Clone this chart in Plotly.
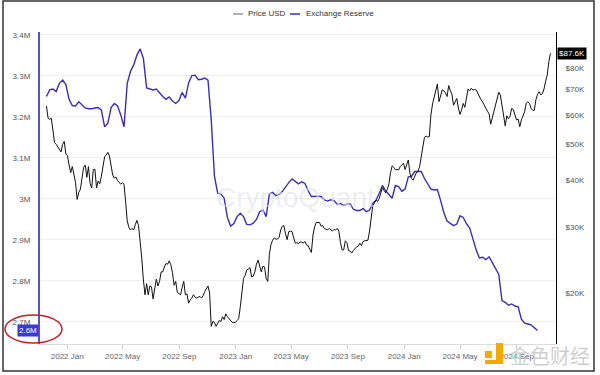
import pandas as pd
import numpy as np
import plotly.graph_objects as go

# Samples, starting 2021-11-17
start_date = "2021-11-17"

# Exchange Reserve (millions of BTC), weekly
reserve_m = [
    3.250, 3.266, 3.268, 3.262, 3.282, 3.290, 3.279, 3.243, 3.228, 3.227,
    3.237, 3.229, 3.222, 3.220, 3.220, 3.222, 3.223, 3.217, 3.176, 3.185,
    3.223, 3.233, 3.227, 3.205, 3.176, 3.282, 3.311, 3.327, 3.351, 3.366,
    3.343, 3.271, 3.268, 3.266, 3.268, 3.258, 3.250, 3.243, 3.249,
    3.239, 3.233, 3.240, 3.260, 3.246, 3.283, 3.301, 3.302, 3.291, 3.292,
    3.295, 3.290, 3.193, 3.055, 3.014, 3.012, 3.002, 2.955, 2.934, 2.940,
    2.957, 2.965, 2.957, 2.938, 2.937, 2.941, 2.950, 2.969, 2.973, 2.957,
    3.012, 3.016, 3.008, 3.011, 3.018, 3.030, 3.040, 3.049, 3.042, 3.037,
    3.042, 3.038, 3.020, 3.006, 3.006, 3.007, 3.006, 2.998, 2.995, 2.998,
    2.996, 2.987, 2.989, 2.984, 2.988, 2.988, 2.975, 2.972, 2.972, 2.977,
    2.969, 2.973, 2.989, 2.997, 3.014, 3.033, 3.020, 3.011, 3.002, 3.033,
    3.030, 3.019, 3.024, 3.054, 3.055, 3.067, 3.067, 3.067, 3.050, 3.038,
    3.024, 3.022, 3.023, 2.996, 2.967, 2.946, 2.941, 2.935, 2.939, 2.959,
    2.955, 2.940, 2.929, 2.900, 2.876, 2.856, 2.858, 2.852, 2.859, 2.845,
    2.830, 2.816, 2.752, 2.748, 2.741, 2.744, 2.739, 2.737, 2.707, 2.697,
    2.695, 2.693, 2.686, 2.679,
]

# Price USD (thousands), every 3.5 days
price_k = [
    63.3, 58.7, 58.3, 58.7, 54.6, 50.5, 50.0, 49.1, 48.5, 47.7,
    50.0, 50.9, 47.1, 46.6, 44.0, 42.0, 43.6, 41.8, 39.5, 35.6,
    37.2, 37.9, 40.3, 43.4, 44.0, 40.8, 43.6, 39.3, 38.2, 42.8,
    42.9, 38.2, 39.9, 39.2, 41.1, 44.0, 46.3, 46.8, 47.6, 46.5,
    44.0, 41.4, 40.6, 40.9, 40.0, 39.5, 39.1, 39.5, 39.1, 35.1,
    31.2, 30.0, 29.5, 29.8, 29.5, 30.5, 31.3, 30.3, 27.7, 24.8,
    21.7, 19.8, 21.2, 19.8, 20.9, 20.8, 19.3, 20.7, 21.8, 20.9,
    21.5, 22.8, 22.8, 23.5, 24.0, 23.9, 24.4, 23.8,
    22.7, 21.0, 21.5, 20.1, 20.0, 19.8, 20.7, 21.5, 19.8, 19.9,
    18.8, 19.2, 19.4, 19.8, 19.5, 19.4, 19.5, 19.6, 19.4, 19.7,
    20.2, 20.6, 20.9, 20.0, 16.3, 16.8, 16.7, 16.3, 16.6, 16.9,
    16.8, 17.3, 17.0, 17.6, 17.3, 17.1, 16.8, 16.7, 16.7, 16.7,
    16.9, 17.1, 18.4, 20.6, 21.9, 22.3, 23.1, 23.2, 23.4, 22.1,
    22.2, 22.8, 23.9, 24.5, 23.5, 22.8, 23.6, 23.5, 21.9, 21.5,
    25.4, 27.0, 27.7, 28.1, 27.9, 27.9, 28.2, 29.5, 30.2, 30.3,
    28.8, 27.8, 29.2, 29.3, 29.2, 28.2, 27.2, 27.3, 27.1, 27.4,
    27.4, 27.2, 27.5, 26.9, 26.8, 26.2, 25.7, 28.6, 30.1, 30.9,
    30.9, 30.9, 30.2, 30.3, 29.8, 29.7, 29.5, 29.8, 29.5, 29.3,
    29.6, 29.5, 29.8, 29.3, 27.3, 26.1, 26.1, 27.6, 27.3, 26.0,
    25.9, 25.6, 26.0, 26.4, 26.6, 26.7, 27.2, 26.8, 27.5, 27.6,
    27.7, 27.7, 29.3, 32.3, 34.3, 34.8, 35.5, 35.2, 35.8, 37.1,
    38.3, 37.6, 37.1, 37.9, 39.2, 42.0, 43.8, 43.4, 42.8, 42.8,
    42.7, 43.6, 44.0, 44.5, 42.8, 43.9, 45.4, 41.8, 40.5, 40.1,
    41.1, 42.0, 42.3, 43.6, 46.3, 48.8, 52.2, 52.6, 52.3, 52.4,
    59.9, 64.1, 67.0, 70.3, 72.5, 65.0, 67.0, 69.9, 69.5, 68.6,
    67.1, 71.8, 69.6, 68.1, 63.6, 64.9, 66.3, 62.5, 60.1, 61.8,
    64.3, 62.8, 65.9, 70.3, 69.5, 70.6, 69.8, 70.1, 69.9, 68.3,
    66.9, 65.8, 64.9, 63.3, 62.4, 61.3, 60.3, 56.6, 58.9, 60.6,
    63.4, 65.8, 68.9, 67.7, 64.0, 59.3, 56.0, 59.6, 58.5, 59.5,
    62.4, 61.9, 60.0, 58.1, 58.4, 55.7, 58.1, 59.6, 61.1, 64.4,
    65.0, 64.3, 62.4, 61.7, 61.6, 65.8, 68.0, 69.1, 67.8, 68.3,
    70.3, 73.7, 76.6, 83.2, 87.6,
]

left_ticks = [2.7, 2.8, 2.9, 3.0, 3.1, 3.2, 3.3, 3.4]
left_labels = ["2.7M", "2.8M", "2.9M", "3M", "3.1M", "3.2M", "3.3M", "3.4M"]
right_ticks = [20, 30, 40, 50, 60, 70, 80]
right_labels = ["$20K", "$30K", "$40K", "$50K", "$60K", "$70K", "$80K"]

reserve_dates = pd.date_range(start_date, periods=len(reserve_m), freq="7D")
price_dates = pd.date_range(start_date, periods=len(price_k), freq="84h")

FONT = "Liberation Sans, Arial, sans-serif"
PURPLE = "#3a2fb3"

fig = go.Figure()
fig.add_trace(go.Scatter(x=reserve_dates, y=reserve_m, mode="lines",
                         line=dict(color=PURPLE, width=1.4), name="Exchange Reserve",
                         yaxis="y", hoverinfo="skip"))
fig.add_trace(go.Scatter(x=price_dates, y=price_k, mode="lines",
                         line=dict(color="#111111", width=1), name="Price USD",
                         yaxis="y2", hoverinfo="skip"))

fig.update_layout(
    width=600, height=375,
    margin=dict(l=40, r=44, t=32, b=31),
    paper_bgcolor="white", plot_bgcolor="white",
    showlegend=False,
    font=dict(family=FONT, size=8, color="#555"),
    xaxis=dict(range=["2021-11-03", "2024-11-25"], tick0="2022-01-01", dtick="M4",
               tickformat="%Y %b", showline=True, linecolor="#dcdcdc", ticks="outside",
               ticklen=4, tickcolor="#cccccc", tickfont=dict(size=8, color="#666"),
               showgrid=False, zeroline=False),
    yaxis=dict(range=[2.6463, 3.4073], tickvals=left_ticks, ticktext=left_labels,
               showgrid=True, gridcolor="#eeeeee", showline=True, linecolor="#5a4fd0",
               linewidth=2, ticks="outside", ticklen=6, tickcolor="rgba(0,0,0,0)",
               tickfont=dict(size=8, color="#555"), zeroline=False),
    yaxis2=dict(overlaying="y", side="right", type="log", range=[1.165, 1.9993],
                tickvals=right_ticks, ticktext=right_labels, showgrid=False,
                showline=True, linecolor="#000", linewidth=1, ticks="outside",
                ticklen=7, tickcolor="rgba(0,0,0,0)",
                tickfont=dict(size=8, color="#555"), zeroline=False),
)

def px_x(px):
    return (px - 40) / 516.0

def px_y(py):
    return (344 - py) / 312.0

shapes = [
    dict(type="rect", xref="paper", yref="paper", x0=px_x(3), x1=px_x(594),
         y0=px_y(371), y1=px_y(1), line=dict(color="#333", width=1.5)),
    dict(type="line", xref="paper", yref="paper", x0=px_x(233), x1=px_x(243),
         y0=px_y(14), y1=px_y(14), line=dict(color="#9a9a9a", width=1.5)),
    dict(type="line", xref="paper", yref="paper", x0=px_x(290), x1=px_x(300),
         y0=px_y(14), y1=px_y(14), line=dict(color=PURPLE, width=1.5)),
    dict(type="circle", xref="paper", yref="paper", x0=px_x(5), x1=px_x(62),
         y0=px_y(343), y1=px_y(315), line=dict(color="#c0202a", width=1.5)),
    dict(type="rect", xref="paper", yref="paper", x0=px_x(485), x1=px_x(492),
         y0=px_y(358), y1=px_y(351), fillcolor="#f5a800", line=dict(width=0)),
    dict(type="rect", xref="paper", yref="paper", x0=px_x(496), x1=px_x(503),
         y0=px_y(364), y1=px_y(343), fillcolor="#f5a800", line=dict(width=0)),
    dict(type="rect", xref="paper", yref="paper", x0=px_x(485), x1=px_x(503),
         y0=px_y(364), y1=px_y(360), fillcolor="#f5a800", line=dict(width=0)),
]
fig.update_layout(shapes=shapes)

annotations = [
    dict(text="Price USD", xref="paper", yref="paper", x=px_x(246), y=px_y(14),
         xanchor="left", yanchor="middle", showarrow=False,
         font=dict(size=8, color="#333")),
    dict(text="Exchange Reserve", xref="paper", yref="paper", x=px_x(304), y=px_y(14),
         xanchor="left", yanchor="middle", showarrow=False,
         font=dict(size=8, color="#333")),
    dict(text="CryptoQuant", xref="paper", yref="paper", x=px_x(295), y=px_y(197),
         xanchor="center", yanchor="middle", showarrow=False,
         font=dict(size=28, color="rgba(225,225,235,0.6)")),
    dict(text="$87.6K", xref="paper", yref="y2", x=1, y=np.log10(price_k[-1]),
         xanchor="left", yanchor="middle", showarrow=False, xshift=1,
         bgcolor="#000", borderpad=1, font=dict(size=8, color="white")),
    dict(text="2.6M", xref="paper", yref="y", x=0, y=reserve_m[-1],
         xanchor="right", yanchor="middle", showarrow=False, xshift=-1,
         bgcolor="#3d36dc", borderpad=1, font=dict(size=8, color="white")),
    dict(text="金色财经", xref="paper", yref="paper", x=px_x(550), y=px_y(355),
         xanchor="center", yanchor="middle", showarrow=False,
         font=dict(size=20, color="rgba(190,190,190,0.75)",
                   family="Noto Sans CJK SC")),
]
fig.update_layout(annotations=annotations)

fig.write_html("out.html", config={"displayModeBar": False},
               post_script="document.body.style.margin='0';document.body.style.overflow='hidden';")
